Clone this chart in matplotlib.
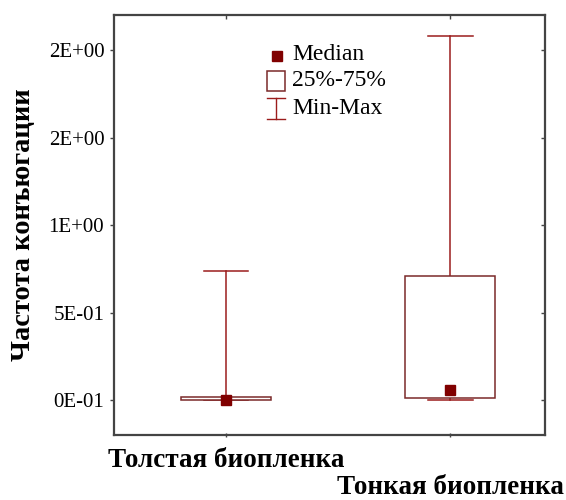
import matplotlib
matplotlib.use("Agg")
import matplotlib.pyplot as plt
from matplotlib.patches import Rectangle

# Summary statistics per biofilm type
groups = ["Толстая биопленка", "Тонкая биопленка"]
medians = [0.0, 0.06]
q1 = [0.0, 0.01]
q3 = [0.015, 0.71]
mins = [0.0, 0.0]
maxs = [0.74, 2.08]

ytick_values = [0.0, 0.5, 1.0, 1.5, 2.0]
ytick_labels = ["0E-01", "5E-01", "1E+00", "2E+00", "2E+00"]

serif = ["Liberation Serif", "DejaVu Serif"]
box_color = "#7a2a2a"
whisker_color = "#9b1c1c"
median_color = "#800000"

fig = plt.figure(figsize=(5.66, 5.0), dpi=100)
ax = fig.add_axes([114 / 566, 65 / 500, 431 / 566, 420 / 500])

box_w = 0.40
cap_w = 0.20
for i in range(len(groups)):
    ax.plot([i, i], [mins[i], maxs[i]], color=whisker_color, lw=1.1, zorder=1)
    for v in (mins[i], maxs[i]):
        ax.plot([i - cap_w / 2, i + cap_w / 2], [v, v], color=whisker_color, lw=1.1, zorder=1)
    ax.add_patch(Rectangle((i - box_w / 2, q1[i]), box_w, q3[i] - q1[i],
                           facecolor="white", edgecolor=box_color, lw=1.1, zorder=2))
    ax.plot(i, medians[i], marker="s", ms=7.2, color=median_color, mec=median_color,
            ls="none", zorder=3)

ax.set_xlim(-0.5, 1.423)
ax.set_ylim(-0.2, 2.2)
ax.set_xticks([0, 1])
ax.set_xticklabels([])
ax.set_yticks(ytick_values)
ax.set_yticklabels(ytick_labels, fontfamily=serif, fontsize=15)

for s in ax.spines.values():
    s.set_linewidth(1.6)
    s.set_color("#444444")
ax.tick_params(axis="both", which="both", length=3, width=1, color="#444444")
ax.tick_params(axis="y", direction="out", left=True, right=False, pad=4)
ax.tick_params(axis="x", direction="inout", bottom=True, top=False)
sec_x = ax.secondary_xaxis("top")
sec_x.set_xticks([0, 1])
sec_x.set_xticklabels([])
sec_x.tick_params(direction="in", length=3, width=1, color="#444444")
sec_x.spines["top"].set_visible(False)
sec_y = ax.secondary_yaxis("right")
sec_y.set_yticks(ytick_values)
sec_y.set_yticklabels([])
sec_y.tick_params(direction="in", length=3, width=1, color="#444444")
sec_y.spines["right"].set_visible(False)

# Staggered category labels
ax.text(0, -0.383, groups[0], ha="center", va="baseline", fontfamily=serif,
        fontsize=19.5, fontweight="bold", transform=ax.transData, clip_on=False)
ax.text(1, -0.54, groups[1], ha="center", va="baseline", fontfamily=serif,
        fontsize=19.5, fontweight="bold", transform=ax.transData, clip_on=False)

fig.text(24 / 566, 1 - 225 / 500, "Частота конъюгации", rotation=90,
         ha="center", va="center", fontfamily=serif, fontsize=20.5, fontweight="bold")

# Legend drawn in axes fraction coordinates
def ax_xy(px, py):
    return (px - 114) / 431, (435 - py) / 420

tr = ax.transAxes
x0, y0 = ax_xy(277, 56)
ax.plot([x0], [y0], marker="s", ms=7, color=median_color, transform=tr, clip_on=False)
bx0, by0 = ax_xy(267, 91)
bx1, by1 = ax_xy(285, 71)
ax.add_patch(Rectangle((bx0, by0), bx1 - bx0, by1 - by0, transform=tr,
                       facecolor="white", edgecolor=box_color, lw=1.1))
ix0, iy_top = ax_xy(267, 98)
ix1, iy_bot = ax_xy(285, 119)
ixm = (ix0 + ix1) / 2
ax.plot([ixm, ixm], [iy_bot, iy_top], color=whisker_color, lw=1.0, transform=tr)
ax.plot([ix0, ix1], [iy_top, iy_top], color=whisker_color, lw=1.0, transform=tr)
ax.plot([ix0, ix1], [iy_bot, iy_bot], color=whisker_color, lw=1.0, transform=tr)

for label, py in (("Median", 54), ("25%-75%", 81), ("Min-Max", 108)):
    tx, ty = ax_xy(292, py)
    ax.text(tx, ty, label, transform=tr, ha="left", va="center",
            fontfamily=serif, fontsize=17)

fig.savefig("out.png", dpi=100)
